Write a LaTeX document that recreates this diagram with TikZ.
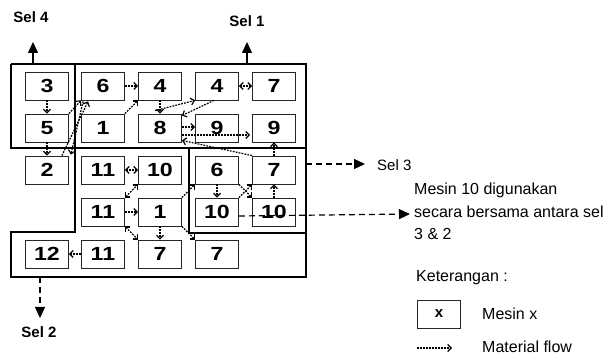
\documentclass[tikz,border=0pt]{standalone}
\usepackage{fontspec}
\setmainfont{Liberation Sans}
\newfontfamily\dgfont[FakeStretch=1.22]{Liberation Sans}
\usetikzlibrary{arrows.meta,calc}
\begin{document}
\begin{tikzpicture}[x=1pt,y=-1pt,
  mbox/.style={draw=black!85, line width=0.8pt, minimum width=43pt, minimum height=28pt, inner sep=0pt,
    font=\dgfont\fontsize{19}{19}\selectfont\bfseries},
  cellline/.style={line width=1.8pt, line join=miter},
  flow/.style={dash pattern=on 1.8pt off 1.2pt, line width=1.2pt, -{Straight Barb[length=3.5pt,width=7pt]}},
  flowb/.style={dash pattern=on 1.8pt off 1.2pt, line width=1.2pt,
    {Straight Barb[length=3.5pt,width=7pt]}-{Straight Barb[length=3.5pt,width=7pt]}},
  selarrow/.style={line width=1.2pt, -{Triangle[length=11pt,width=10pt]}},
  seldash/.style={selarrow, dash pattern=on 6pt off 4pt},
  lbl/.style={font=\fontsize{16}{18}\selectfont, inner sep=0pt, anchor=west},
  sellbl/.style={font=\fontsize{15}{15}\selectfont\bfseries, inner sep=0pt}]
\useasboundingbox (0,0) rectangle (603,355);

% machines
\node[mbox] (m00) at (47,86) {3};
\node[mbox] (m01) at (103,86) {6};
\node[mbox] (m02) at (160,86) {4};
\node[mbox] (m03) at (217,86) {4};
\node[mbox] (m04) at (274,86) {7};
\node[mbox] (m10) at (47,128) {5};
\node[mbox] (m11) at (103,128) {1};
\node[mbox] (m12) at (160,128) {8};
\node[mbox] (m13) at (217,128) {9};
\node[mbox] (m14) at (274,128) {9};
\node[mbox] (m20) at (47,170) {2};
\node[mbox] (m21) at (103,170) {11};
\node[mbox] (m22) at (160,170) {10};
\node[mbox] (m23) at (217,170) {6};
\node[mbox] (m24) at (274,170) {7};
\node[mbox] (m31) at (103,212) {11};
\node[mbox] (m32) at (160,212) {1};
\node[mbox] (m33) at (217,212) {10};
\node[mbox] (m34) at (274,212) {10};
\node[mbox] (m40) at (47,254) {12};
\node[mbox] (m41) at (103,254) {11};
\node[mbox] (m42) at (160,254) {7};
\node[mbox] (m43) at (217,254) {7};

% cell outlines
\draw[cellline] (11,64) -- (306,64) -- (306,277) -- (11,277) -- (11,232) -- (75,232) -- (75,64);
\draw[cellline] (11,64) -- (11,148) -- (306,148);
\draw[cellline] (189,148) -- (189,233) -- (306,233);

% material flows
\draw[flow] (m00.south) -- (m10.north);
\draw[flow] (m10.south) -- (m20.north);
\draw[flow] (m01.east) -- (m02.west);
\draw[flowb] (m03.east) -- (m04.west);
\draw[flow] (m02.south) -- (m12.north);
\draw[flow] (m10.north east) -- (m01.south west);
\draw[flow] ($(m20.north east)+(-7,0)$) -- ($(m01.south west)+(7,1)$);
\draw[flow] ($(m01.south west)+(2,1)$) -- ($(m20.north east)+(2,-1)$);
\draw[flow] (m11.north east) -- (m02.south west);
\draw[flow] ($(m12.north)+(-5,-3)$) -- (m03.south west);
\draw[flow] ($(m03.south)+(-3,0)$) -- ($(m12.north east)+(0,2)$);
\draw[flow] ($(m12.east)+(0,-1)$) -- ($(m13.west)+(0,-1)$);
\draw[flow] ($(m12.east)+(0,7)$) -- ($(m14.west)+(-2,7)$);
\draw[flow] (m24.north west) -- ($(m12.south east)+(0,-2)$);
\draw[flow] (m24.north) -- (m14.south);
\draw[flow] (m34.north) -- (m24.south);
\draw[flow] (m23.south) -- (m33.north);
\draw[flowb] (m21.east) -- (m22.west);
\draw[flow] (m31.east) -- (m32.west);
\draw[flowb] (m31.north east) -- (m22.south west);
\draw[flowb] (m31.south east) -- (m42.north west);
\draw[flow] (m32.south) -- (m42.north);
\draw[flow] (m32.north east) -- (m23.south west);
\draw[flow] (m32.south east) -- (m43.north west);
\draw[flow] (m23.south east) -- (m34.north west);
\draw[flow] (m33.north east) -- (m24.south west);
\draw[flow] (m41.west) -- (m40.east);

% cell exits
\coordinate (s4a) at (33,64);  \coordinate (s4b) at (33,42);
\coordinate (s1a) at (247,64); \coordinate (s1b) at (247,42);
\coordinate (s3a) at (306,164); \coordinate (s3b) at (365,164);
\coordinate (s2a) at (40,277); \coordinate (s2b) at (40,318);
\coordinate (mxa) at (410,214);
\draw[selarrow] (s4a) -- (s4b);
\draw[selarrow] (s1a) -- (s1b);
\draw[seldash] (s3a) -- (s3b);
\draw[seldash] (s2a) -- (s2b);
\draw[seldash] ($(m33.east)+(0,4)$) -- (mxa);
\node[sellbl] (sel4) at (31,17) {Sel 4};
\node[sellbl] (sel1) at (247,21) {Sel 1};
\node[sellbl] (sel2) at (39,332) {Sel 2};
\node[lbl, font=\fontsize{15}{15}\selectfont] (sel3) at (377,165) {Sel 3};

\node[lbl] (t1) at (414,190) {Mesin 10 digunakan};
\node[lbl] (t2) at (414,212) {secara bersama antara sel};
\node[lbl] (t3) at (414,234) {3 \& 2};

% legend
\node[lbl] (ket) at (416,278) {Keterangan :};
\node[mbox, font=\fontsize{15}{15}\selectfont\bfseries] (lx) at (439,314) {x};
\node[lbl] (lxt) at (482,314) {Mesin x};
\coordinate (la) at (417,348); \coordinate (lb) at (452,348);
\draw[flow] (la) -- (lb);
\node[lbl] (lft) at (482,347) {Material flow};
\end{tikzpicture}
\end{document}
